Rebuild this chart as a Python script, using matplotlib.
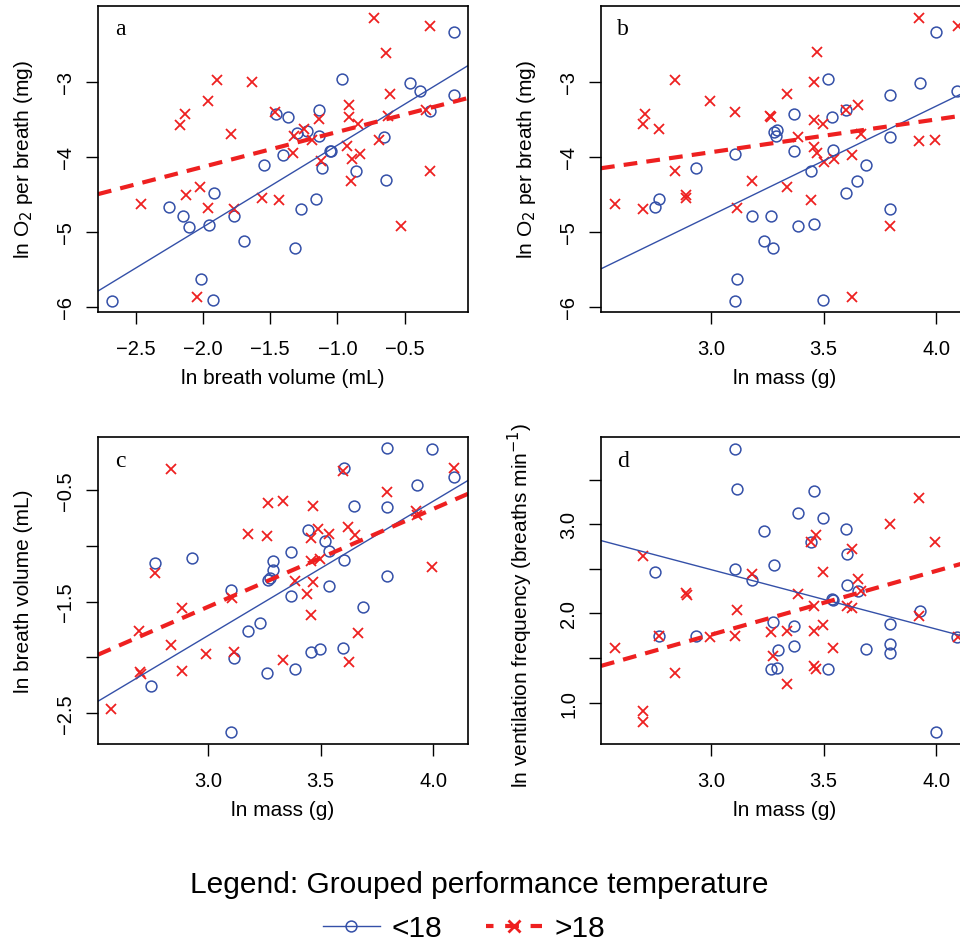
import numpy as np
import matplotlib
matplotlib.use("Agg")
import matplotlib.pyplot as plt
from matplotlib.lines import Line2D

plt.rcParams['font.family'] = ['Liberation Sans', 'DejaVu Sans']

BLUE = "#3450a8"
RED = "#ee2020"

# panel a: ln breath volume vs ln O2 per breath
a_blue_x = [-2.673, -2.012, -1.925, -2.255, -2.146, -2.106, -1.957, -1.918, -1.766, -1.697,
            -1.543, -1.457, -1.370, -1.405, -1.313, -1.273, -1.300, -1.226, -1.137, -1.137,
            -1.159, -1.117, -1.058, -1.048, -0.966, -0.864, -0.651, -0.641, -0.463, -0.386,
            -0.314, -0.136, -0.133]
a_blue_y = [-5.929, -5.631, -5.916, -4.676, -4.791, -4.933, -4.907, -4.484, -4.787, -5.120,
            -4.107, -3.436, -3.476, -3.973, -5.213, -4.693, -3.684, -3.658, -3.373, -3.720,
            -4.564, -4.156, -3.924, -3.924, -2.960, -4.191, -3.738, -4.316, -3.022, -3.120,
            -3.396, -2.333, -3.178]
a_red_x = [-2.460, -2.168, -2.131, -2.128, -2.024, -1.965, -1.965, -1.893, -2.044, -1.789,
           -1.771, -1.633, -1.563, -1.432, -1.462, -1.330, -1.323, -1.246, -1.191, -1.137,
           -1.122, -0.926, -0.914, -0.914, -0.899, -0.894, -0.847, -0.832, -0.730, -0.641,
           -0.607, -0.626, -0.688, -0.525, -0.341, -0.309, -0.309]
a_red_y = [-4.631, -3.573, -3.431, -4.507, -4.400, -4.689, -3.258, -2.973, -5.871, -3.702,
           -4.698, -3.009, -4.556, -4.573, -3.409, -3.951, -3.729, -3.631, -3.782, -3.498,
           -4.062, -3.862, -3.307, -3.476, -4.320, -4.031, -3.560, -3.969, -2.147, -2.613,
           -3.160, -3.453, -3.782, -4.924, -3.378, -2.262, -4.187]

# panel b: ln mass vs ln O2 per breath
b_blue_x = [2.748, 2.769, 2.932, 3.105, 3.116, 3.104, 3.181, 3.265, 3.234, 3.273,
            3.280, 3.292, 3.290, 3.369, 3.369, 3.388, 3.443, 3.456, 3.498, 3.521,
            3.538, 3.542, 3.601, 3.600, 3.650, 3.690, 3.797, 3.797, 3.797, 3.930,
            3.999, 4.093]
b_blue_y = [-4.676, -4.569, -4.156, -3.969, -5.631, -5.929, -4.791, -4.791, -5.120, -5.213,
            -3.676, -3.644, -3.724, -3.436, -3.924, -4.929, -4.196, -4.902, -5.916, -2.960,
            -3.476, -3.916, -3.378, -4.484, -4.320, -4.107, -3.178, -3.738, -4.693, -3.022,
            -2.333, -3.124]
b_red_x = [2.573, 2.698, 2.698, 2.704, 2.767, 2.839, 2.839, 2.887, 2.890, 2.993,
           3.104, 3.114, 3.181, 3.262, 3.268, 3.335, 3.335, 3.388, 3.443, 3.456,
           3.458, 3.456, 3.470, 3.471, 3.499, 3.501, 3.544, 3.601, 3.625, 3.627,
           3.652, 3.664, 3.797, 3.924, 3.926, 3.997, 4.096]
b_red_y = [-4.631, -4.702, -3.569, -3.427, -3.631, -2.978, -4.187, -4.511, -4.547, -3.253,
           -3.409, -4.689, -4.320, -3.453, -3.476, -3.160, -4.400, -3.742, -4.578, -3.507,
           -3.009, -3.871, -2.609, -3.951, -3.564, -4.076, -4.031, -3.378, -3.973, -5.876,
           -3.311, -3.698, -4.924, -2.147, -3.796, -3.778, -2.262]

# panel c: ln mass vs ln breath volume
c_blue_x = [2.744, 2.764, 2.926, 3.101, 3.113, 3.100, 3.177, 3.232, 3.262, 3.267,
            3.273, 3.288, 3.290, 3.369, 3.369, 3.385, 3.443, 3.455, 3.496, 3.519,
            3.538, 3.538, 3.599, 3.602, 3.602, 3.649, 3.689, 3.795, 3.795, 3.795,
            3.929, 3.997, 4.092]
c_blue_y = [-2.252, -1.157, -1.115, -1.401, -2.007, -2.670, -1.766, -1.694, -2.142, -1.309,
            -1.291, -1.222, -1.136, -1.058, -1.449, -2.103, -0.861, -1.954, -1.921, -0.963,
            -1.046, -1.363, -1.912, -0.309, -1.133, -0.643, -1.545, -0.127, -0.652, -1.273,
            -0.461, -0.136, -0.384]
c_red_x = [2.569, 2.692, 2.695, 2.700, 2.764, 2.834, 2.835, 2.884, 2.884, 2.990,
           3.104, 3.113, 3.177, 3.262, 3.267, 3.333, 3.333, 3.385, 3.438, 3.455,
           3.458, 3.458, 3.464, 3.467, 3.490, 3.496, 3.538, 3.599, 3.621, 3.624,
           3.651, 3.666, 3.795, 3.923, 3.929, 3.997, 4.091]
c_red_y = [-2.461, -1.763, -2.133, -2.151, -1.243, -0.312, -1.891, -2.124, -1.560, -1.966,
           -1.467, -1.954, -0.897, -0.915, -0.622, -0.601, -2.019, -1.318, -1.431, -0.930,
           -1.142, -1.625, -0.643, -1.327, -0.849, -1.118, -0.894, -0.336, -0.834, -2.040,
           -0.909, -1.784, -0.521, -0.688, -0.730, -1.187, -0.306]

# panel d: ln mass vs ln ventilation frequency
d_blue_x = [2.748, 2.769, 2.932, 3.104, 3.116, 3.105, 3.181, 3.234, 3.279, 3.273,
            3.295, 3.267, 3.293, 3.370, 3.370, 3.388, 3.443, 3.456, 3.499, 3.521,
            3.539, 3.541, 3.601, 3.603, 3.603, 3.652, 3.690, 3.797, 3.797, 3.797,
            3.930, 3.999, 4.093]
d_blue_y = [2.460, 1.752, 1.752, 3.848, 3.391, 2.497, 2.370, 2.920, 2.542, 1.902,
            1.591, 1.378, 1.393, 1.857, 1.640, 3.124, 2.798, 3.371, 3.075, 1.378,
            2.164, 2.152, 2.942, 2.669, 2.317, 2.257, 1.603, 1.887, 1.655, 1.554,
            2.029, 0.667, 1.734]
d_red_x = [2.573, 2.698, 2.698, 2.698, 2.767, 2.839, 2.889, 2.892, 2.993, 3.105,
           3.116, 3.181, 3.267, 3.273, 3.335, 3.335, 3.388, 3.443, 3.455, 3.459,
           3.459, 3.468, 3.468, 3.499, 3.499, 3.542, 3.604, 3.627, 3.627, 3.652,
           3.667, 3.797, 3.924, 3.926, 3.997, 4.096]
d_red_y = [1.614, 2.643, 0.903, 0.779, 1.752, 1.329, 2.228, 2.209, 1.734, 1.745,
           2.037, 2.445, 1.790, 1.528, 1.808, 1.210, 2.213, 2.798, 2.082, 1.805,
           1.408, 1.378, 2.880, 2.463, 1.876, 1.610, 2.082, 2.726, 2.059, 2.381,
           2.257, 3.006, 3.294, 1.969, 2.796, 1.734]

# fitted lines (intercept, slope)
fit_blue = {"a": (-2.752, 1.093), "b": (-9.149, 1.456), "c": (-5.407, 1.201), "d": (4.489, -0.666)}
fit_red = {"a": (-3.203, 0.466), "b": (-5.250, 0.437), "c": (-4.172, 0.875), "d": (-0.383, 0.715)}

W, H = 960, 945
fig = plt.figure(figsize=(W / 100, H / 100), dpi=100)


def px_axes(x0, y0, x1, y1):
    return fig.add_axes([x0 / W, 1 - y1 / H, (x1 - x0) / W, (y1 - y0) / H])


ax_a = px_axes(98, 7, 468, 313)
ax_b = px_axes(601, 7, 971, 313)
ax_c = px_axes(98, 438, 468, 745)
ax_d = px_axes(601, 438, 971, 745)

panels = [
    (ax_a, "a", a_blue_x, a_blue_y, a_red_x, a_red_y),
    (ax_b, "b", b_blue_x, b_blue_y, b_red_x, b_red_y),
    (ax_c, "c", c_blue_x, c_blue_y, c_red_x, c_red_y),
    (ax_d, "d", d_blue_x, d_blue_y, d_red_x, d_red_y),
]

MS = 7.8
for ax, key, bx, by, rx, ry in panels:
    ax.plot(bx, by, ls="none", marker="o", ms=MS, mfc="none", mec=BLUE, mew=1.1)
    ax.plot(rx, ry, ls="none", marker="x", ms=MS, color=RED, mew=1.3)
    ia, sa = fit_blue[key]
    ax.axline((0, ia), slope=sa, color=BLUE, lw=1.0)
    ir, sr = fit_red[key]
    ax.axline((0, ir), slope=sr, color=RED, lw=3, ls=(0, (3.3, 2.2)))
    ax.text(0.06, 0.925, key, transform=ax.transAxes, ha="center", va="center",
            fontsize=17, family="Liberation Serif")
    for s in ax.spines.values():
        s.set_linewidth(1.2)
    ax.tick_params(direction="out", length=8.5, width=1.0, labelsize=14.5)
    ax.tick_params(axis="x", pad=11)
    ax.tick_params(axis="y", pad=8, labelrotation=90)

ax_a.set_xlim(-2.78, -0.03)
ax_a.set_ylim(-6.07, -1.99)
ax_a.set_xticks([-2.5, -2.0, -1.5, -1.0, -0.5])
ax_a.set_xticklabels(["\u22122.5", "\u22122.0", "\u22121.5", "\u22121.0", "\u22120.5"])
for ax in (ax_a, ax_b):
    ax.set_yticks([-6, -5, -4, -3])
    ax.set_yticklabels(["\u22126", "\u22125", "\u22124", "\u22123"])
ax_b.set_ylim(-6.07, -1.99)

for ax in (ax_b, ax_c, ax_d):
    ax.set_xlim(2.51, 4.155)
    ax.set_xticks([3.0, 3.5, 4.0])
    ax.set_xticklabels(["3.0", "3.5", "4.0"])

ax_c.set_ylim(-2.775, -0.028)
ax_c.set_yticks([-2.5, -2.0, -1.5, -1.0, -0.5])
ax_c.set_yticklabels(["\u22122.5", "", "\u22121.5", "", "\u22120.5"])

ax_d.set_ylim(0.536, 3.979)
ax_d.set_yticks([1.0, 1.5, 2.0, 2.5, 3.0, 3.5])
ax_d.set_yticklabels(["1.0", "", "2.0", "", "3.0", ""])

for ax in (ax_a, ax_b, ax_c, ax_d):
    for lab in ax.get_yticklabels():
        lab.set_va("center")

# axis labels
fs = 15
fig.text(283 / W, 1 - 379 / H, "ln breath volume (mL)", ha="center", va="center", fontsize=fs)
fig.text(785 / W, 1 - 379 / H, "ln mass (g)", ha="center", va="center", fontsize=fs)
fig.text(283 / W, 1 - 811 / H, "ln mass (g)", ha="center", va="center", fontsize=fs)
fig.text(785 / W, 1 - 811 / H, "ln mass (g)", ha="center", va="center", fontsize=fs)
fig.text(24 / W, 1 - 160 / H, "ln O$_2$ per breath (mg)", ha="center", va="center",
         rotation=90, fontsize=fs)
fig.text(527 / W, 1 - 160 / H, "ln O$_2$ per breath (mg)", ha="center", va="center",
         rotation=90, fontsize=fs)
fig.text(24 / W, 1 - 591 / H, "ln breath volume (mL)", ha="center", va="center",
         rotation=90, fontsize=fs)
fig.text(520 / W, 1 - 605 / H, "ln ventilation frequency (breaths min$^{-1}$)",
         ha="center", va="center", rotation=90, fontsize=fs)

# legend
fig.text(479 / W, 1 - 885 / H, "Legend: Grouped performance temperature",
         ha="center", va="center", fontsize=21.5)
handles = [
    Line2D([], [], color=BLUE, lw=1.0, marker="o", ms=MS, mfc="none", mec=BLUE, mew=1.1),
    Line2D([], [], color=RED, lw=3, ls=(1.5, (3.3, 2.8)), marker="x", ms=MS + 1, mew=2),
]
fig.legend(handles, ["<18", ">18"], loc="center", bbox_to_anchor=(464 / W, 1 - 929 / H),
           ncol=2, frameon=False, fontsize=21.5, handlelength=1.9, columnspacing=1.45,
           handletextpad=0.4, borderpad=0.1)

fig.savefig("out.png", dpi=100)
